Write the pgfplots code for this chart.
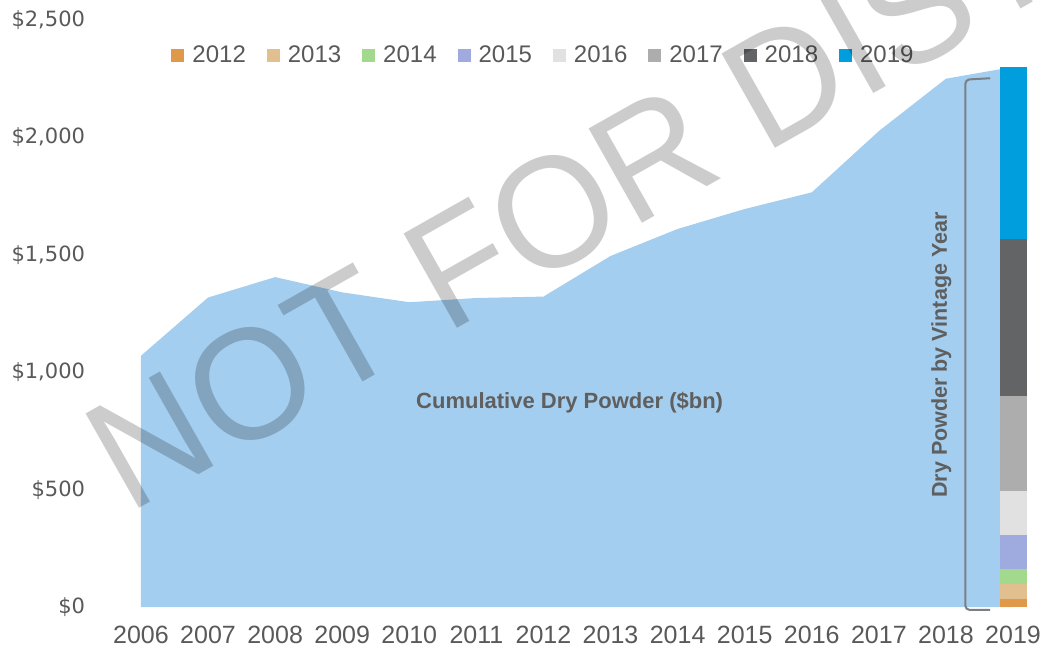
\documentclass[border=0pt]{standalone}
\usepackage{fontspec}
\setmainfont{Liberation Sans}
\newfontfamily\ytickfont{DejaVu Sans}
\usepackage{pgfplots}
\pgfplotsset{compat=1.18}
\definecolor{areablue}{HTML}{A3CEEF}
\definecolor{cA}{HTML}{E0994A}
\definecolor{cB}{HTML}{E2BF8E}
\definecolor{cC}{HTML}{A3D98D}
\definecolor{cD}{HTML}{9FAADF}
\definecolor{cE}{HTML}{E0E1E0}
\definecolor{cF}{HTML}{ACADAC}
\definecolor{cG}{HTML}{636466}
\definecolor{cH}{HTML}{009EDC}
\definecolor{labelgray}{HTML}{595959}
\definecolor{boldgray}{HTML}{5F5F5F}
\definecolor{bracketgray}{HTML}{7A7F86}
\definecolor{wmgray}{HTML}{CCCCCC}
\begin{document}
\begin{tikzpicture}
\pgfplotsset{
  common/.style={
    at={(0,0)}, anchor=south west,
    scale only axis, width=905.6bp, height=587bp,
    xmin=2005.75, xmax=2019.25, ymin=0, ymax=2500,
  }
}
\begin{axis}[
  common, clip=false,
  axis line style={draw=none}, major tick length=0pt,
  xtick={2006,2007,2008,2009,2010,2011,2012,2013,2014,2015,2016,2017,2018,2019},
  xticklabels={2006,2007,2008,2009,2010,2011,2012,2013,2014,2015,2016,2017,2018,2019},
  ytick={0,500,1000,1500,2000,2500},
  yticklabels={\$0,\$500,{\$1,000},{\$1,500},{\$2,000},{\$2,500}},
  xticklabel style={font=\fontsize{25bp}{30bp}\selectfont, text=labelgray, inner sep=0pt, anchor=north, yshift=-19bp},
  yticklabel style={font=\ytickfont\fontsize{21bp}{25bp}\selectfont, text=labelgray, inner sep=0pt, anchor=east, xshift=-39bp},
]
\addplot[fill=areablue, draw=none] coordinates {
  (2006,1070) (2007,1318) (2008,1405) (2009,1340) (2010,1298) (2011,1316) (2012,1322)
  (2013,1495) (2014,1610) (2015,1695) (2016,1766) (2017,2027) (2018,2250) (2019,2300)
} \closedcycle;
\node[font=\bfseries\fontsize{22bp}{26bp}\selectfont, text=boldgray] at (axis cs:2012.39,869) {Cumulative Dry Powder (\$bn)};
\node[font=\bfseries\fontsize{21.5bp}{26bp}\selectfont, text=boldgray, rotate=90] at (axis cs:2017.93,1073) {Dry Powder by Vintage Year};
\draw[bracketgray, line width=2bp, rounded corners=4bp] (axis cs:2018.66,2252) -- (axis cs:2018.29,2246) -- (axis cs:2018.29,-12) -- (axis cs:2018.66,-12);
\end{axis}
\begin{axis}[
  common, hide axis,
  ybar stacked, bar width=27bp,
  legend columns=8,
  legend image code/.code={\fill[#1] (0bp,-6.5bp) rectangle (13bp,6.5bp); \path (19bp,0bp);},
  legend style={draw=none, fill=none, at={(0.463,0.940)}, anchor=center,
    font=\fontsize{24bp}{28bp}\selectfont, text=labelgray,
    /tikz/every even column/.append style={column sep=19bp}},
]
\addplot[fill=cA, draw=none] coordinates {(2019,34)};
\addplot[fill=cB, draw=none] coordinates {(2019,62)};
\addplot[fill=cC, draw=none] coordinates {(2019,66)};
\addplot[fill=cD, draw=none] coordinates {(2019,145)};
\addplot[fill=cE, draw=none] coordinates {(2019,187)};
\addplot[fill=cF, draw=none] coordinates {(2019,403)};
\addplot[fill=cG, draw=none] coordinates {(2019,669)};
\addplot[fill=cH, draw=none] coordinates {(2019,734)};
\legend{2012,2013,2014,2015,2016,2017,2018,2019}
\end{axis}
\begin{scope}[blend mode=multiply]
\node[rotate=29.5, yscale=1.03, anchor=base west, inner sep=0pt, text=wmgray, font=\fontsize{153bp}{158bp}\selectfont] at (4.5bp,92.5bp) {NOT FOR DISTRIBUTION};
\end{scope}
\pgfresetboundingbox
\path[use as bounding box] (-124.2bp,-44bp) rectangle (915.8bp,607bp);
\end{tikzpicture}
\end{document}
